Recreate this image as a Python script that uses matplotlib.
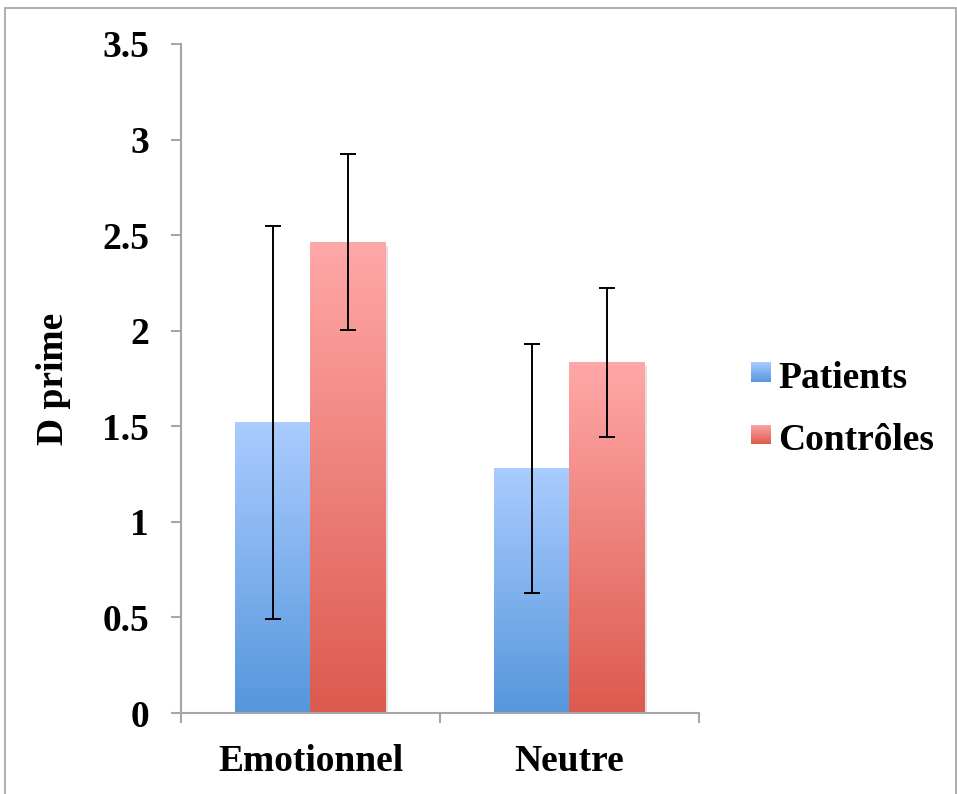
import numpy as np
import matplotlib.pyplot as plt
from matplotlib.colors import LinearSegmentedColormap
from matplotlib.patches import Rectangle

categories = ['Emotionnel', 'Neutre']
series = ['Patients', 'Contrôles']
patients = [1.52, 1.28]
patients_err = [1.03, 0.65]
controles = [2.465, 1.835]
controles_err = [0.46, 0.39]
yticks = [0, 0.5, 1, 1.5, 2, 2.5, 3, 3.5]
ytick_labels = ['0', '0.5', '1', '1.5', '2', '2.5', '3', '3.5']

plt.rcParams['font.family'] = ['Liberation Serif', 'DejaVu Serif']
plt.rcParams['font.weight'] = 'bold'

blue_cmap = LinearSegmentedColormap.from_list('b', ['#5696DC', '#AACCFF'])
red_cmap = LinearSegmentedColormap.from_list('r', ['#DC5A4E', '#FFA8A8'])
grad = np.linspace(0, 1, 256).reshape(-1, 1)

fig = plt.figure(figsize=(9.57, 7.94), dpi=100)
ax = fig.add_axes([0.1891, 0.102, 0.7304 - 0.1891, 0.9446 - 0.102])

x = np.arange(len(categories))
w = 0.29

def gradient_bars(xpos, vals, cmap):
    bars = ax.bar(xpos, vals, width=w, color='none', edgecolor='none', zorder=2)
    for b in bars:
        x0, y0 = b.get_x(), b.get_y()
        bw, bh = b.get_width(), b.get_height()
        # soft shadow
        ax.add_patch(Rectangle((x0 + 0.008, y0), bw, bh - 0.02,
                               facecolor='#000000', alpha=0.12, edgecolor='none', zorder=1))
        im = ax.imshow(grad, cmap=cmap, extent=[x0, x0 + bw, y0, y0 + bh],
                       origin='lower', aspect='auto', zorder=2)
        im.set_clip_path(b)
    return bars

gradient_bars(x - w / 2, patients, blue_cmap)
gradient_bars(x + w / 2, controles, red_cmap)

ax.errorbar(x - w / 2, patients, yerr=patients_err, fmt='none', ecolor='black',
            elinewidth=1.4, capsize=6, capthick=1.4, zorder=3)
ax.errorbar(x + w / 2, controles, yerr=controles_err, fmt='none', ecolor='black',
            elinewidth=1.4, capsize=6, capthick=1.4, zorder=3)

ax.set_xlim(-0.5, 1.5)
ax.set_ylim(0, 3.5)
ax.set_yticks(yticks)
ax.set_yticklabels(ytick_labels)
ax.set_xticks(x)
ax.set_xticklabels(categories)
ax.set_xticks([-0.5, 0.5, 1.5], minor=True)

for s in ['top', 'right']:
    ax.spines[s].set_visible(False)
for s in ['left', 'bottom']:
    ax.spines[s].set_color('#A6A6A6')
    ax.spines[s].set_linewidth(1.5)

ax.tick_params(axis='y', direction='out', length=7, width=1.5, color='#A6A6A6',
               labelsize=27, pad=16)
ax.tick_params(axis='x', which='major', length=0, labelsize=27, pad=22)
ax.tick_params(axis='x', which='minor', direction='out', length=7, width=1.5, color='#A6A6A6')
ax.set_ylabel('D prime', fontsize=27, fontweight='bold', labelpad=22)

# legend: (label, colormap, square centre y px, text baseline y px)
legend_items = [(series[0], blue_cmap, 372, 388), (series[1], red_cmap, 434.5, 450)]
for label, cmap, sq_y, base_y in legend_items:
    yc = 1 - sq_y / 794
    lax = fig.add_axes([751 / 957, yc - 10 / 794, 20 / 957, 20 / 794])
    lax.imshow(grad, cmap=cmap, origin='lower', aspect='auto')
    lax.axis('off')
    fig.text(778 / 957, 1 - base_y / 794, label, fontsize=27, fontweight='bold',
             va='baseline', ha='left')

# outer frame
fig.patches.append(Rectangle((5 / 957, -0.01), 0.999 - 5 / 957, 1 - 8 / 794 + 0.01,
                             transform=fig.transFigure, fill=False,
                             edgecolor='#A0A0A0', linewidth=1.2))

fig.savefig('out.png', dpi=100)
